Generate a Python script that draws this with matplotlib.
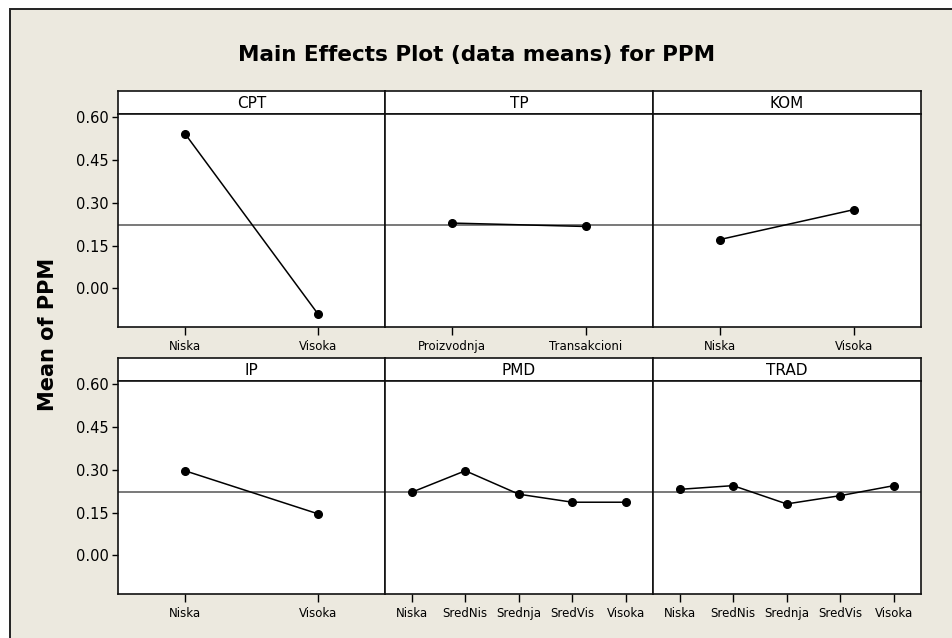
import matplotlib.pyplot as plt
from matplotlib.patches import Rectangle

# factors and their level means
factors = ["CPT", "TP", "KOM", "IP", "PMD", "TRAD"]
levels_two = ["Niska", "Visoka"]
levels_tp = ["Proizvodnja", "Transakcioni"]
levels_five = ["Niska", "SredNis", "Srednja", "SredVis", "Visoka"]

cpt_means = [0.543, -0.092]
tp_means = [0.229, 0.217]
kom_means = [0.171, 0.276]
ip_means = [0.296, 0.145]
pmd_means = [0.221, 0.296, 0.214, 0.186, 0.186]
trad_means = [0.231, 0.244, 0.180, 0.209, 0.244]
grand_mean = 0.222

yticks = [0.00, 0.15, 0.30, 0.45, 0.60]
ylim = (-0.135, 0.611)

levels = [levels_two, levels_tp, levels_two, levels_two, levels_five, levels_five]
means = [cpt_means, tp_means, kom_means, ip_means, pmd_means, trad_means]

W, H = 952, 638
BG = "#ece9df"

fig = plt.figure(figsize=(W / 100, H / 100), dpi=100)
fig.patch.set_facecolor("white")
# beige graph region with a dark edge (screenshot border)
fig.patches.append(Rectangle((10 / W, -0.01), 1.0, (H - 8.7) / H + 0.01,
                             transform=fig.transFigure, facecolor=BG,
                             edgecolor="#222222", linewidth=1.4, zorder=-10))

def fx(px):
    return px / W

def fy(py):
    return 1 - py / H

lefts = [118.3, 385.0, 652.7, 920.7]
rows = [(91.0, 114.3, 326.7), (358.3, 380.7, 594.0)]

for i, name in enumerate(factors):
    r, c = divmod(i, 3)
    htop, dtop, dbot = rows[r]
    x0, x1 = lefts[c], lefts[c + 1]

    # header strip
    hax = fig.add_axes([fx(x0), fy(dtop), fx(x1) - fx(x0), fy(htop) - fy(dtop)])
    hax.set_facecolor("white")
    hax.set_xticks([])
    hax.set_yticks([])
    for s in hax.spines.values():
        s.set_linewidth(1.2)
        s.set_color("#111111")
    hax.text(0.5, 0.45, name, ha="center", va="center", fontsize=11,
             transform=hax.transAxes)

    ax = fig.add_axes([fx(x0), fy(dbot), fx(x1) - fx(x0), fy(dtop) - fy(dbot)])
    ax.set_facecolor("white")
    n = len(levels[i])
    xs = list(range(1, n + 1))
    ax.axhline(grand_mean, color="#555555", linewidth=1.1, zorder=1)
    ax.plot(xs, means[i], color="black", linewidth=1.1, marker="o",
            markersize=5.5, zorder=3)
    ax.set_xlim(0.5, n + 0.5)
    ax.set_ylim(*ylim)
    ax.set_xticks(xs)
    ax.set_xticklabels(levels[i], fontsize=8.5)
    ax.tick_params(axis="x", direction="out", length=5.5, width=1.0, pad=4)
    ax.set_yticks(yticks)
    if c == 0:
        ax.set_yticklabels([f"{v:.2f}" for v in yticks], fontsize=10.5)
        ax.tick_params(axis="y", direction="out", length=4, width=1.0, pad=3)
    else:
        ax.tick_params(axis="y", left=False, labelleft=False)
    for s in ax.spines.values():
        s.set_linewidth(1.2)
        s.set_color("#111111")

fig.text(fx(477), fy(55), "Main Effects Plot (data means) for PPM",
         ha="center", va="center", fontsize=15.5, fontweight="bold")
fig.text(fx(48), fy(334), "Mean of PPM", ha="center", va="center",
         rotation=90, fontsize=15, fontweight="bold")

plt.savefig("out.png", dpi=100, facecolor=fig.get_facecolor())
